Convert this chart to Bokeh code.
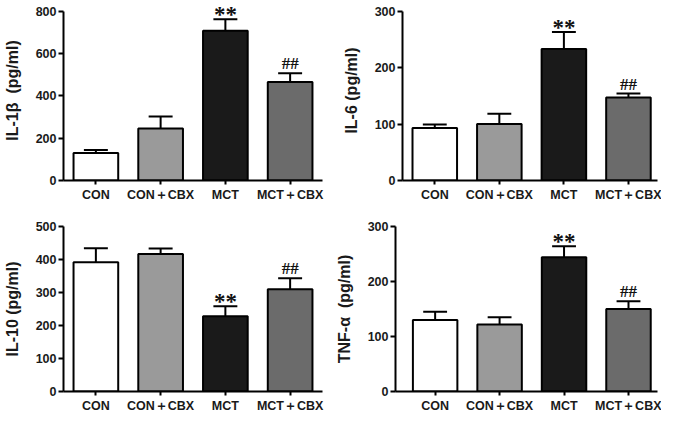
from bokeh.plotting import figure
from bokeh.models import ColumnDataSource, FixedTicker, LabelSet, Range1d
from bokeh.layouts import column, row
from bokeh.embed import file_html
from bokeh.resources import INLINE

categories = ["CON", "CON＋CBX", "MCT", "MCT＋CBX"]
bar_colors = ["#ffffff", "#9a9a9a", "#1a1a1a", "#6b6b6b"]
marks = ["", "", "**", "##"]

il1b_mean = [130, 246, 707, 465]
il1b_err = [14, 56, 54, 42]

il6_mean = [93, 100, 233, 147]
il6_err = [6, 18, 30, 7]

il10_mean = [392, 417, 228, 310]
il10_err = [42, 16, 30, 33]

tnf_mean = [130, 122, 244, 150]
tnf_err = [15, 13, 20, 14]

FONT = "Liberation Sans"


def make_panel(ylabel, means, errs, ymax, ystep, yend, width, height,
               bl, br, bt, bb, xstart, xend):
    p = figure(width=width, height=height, output_backend="svg",
               toolbar_location=None,
               x_range=Range1d(xstart, xend), y_range=Range1d(0, yend),
               min_border_left=bl, min_border_right=br,
               min_border_top=bt, min_border_bottom=bb)
    p.outline_line_color = None
    p.xgrid.visible = False
    p.ygrid.visible = False
    p.background_fill_color = None
    p.border_fill_color = None

    xs = list(range(len(categories)))
    tops = [m + e for m, e in zip(means, errs)]
    src = ColumnDataSource(dict(x=xs, mean=means, top=tops,
                                color=bar_colors, mark=marks,
                                x0=[x - 0.185 for x in xs],
                                x1=[x + 0.185 for x in xs]))
    p.segment(x0="x", y0="mean", x1="x", y1="top", source=src,
              line_color="black", line_width=2)
    p.segment(x0="x0", y0="top", x1="x1", y1="top", source=src,
              line_color="black", line_width=2)
    p.vbar(x="x", top="mean", bottom=0, width=0.69, source=src,
           fill_color="color", line_color="black", line_width=2)

    star_idx = [i for i, m in enumerate(marks) if m.startswith("*")]
    hash_idx = [i for i, m in enumerate(marks) if m.startswith("#")]
    star_src = ColumnDataSource(dict(x=[xs[i] for i in star_idx],
                                     y=[tops[i] for i in star_idx],
                                     t=[marks[i] for i in star_idx]))
    hash_src = ColumnDataSource(dict(x=[xs[i] for i in hash_idx],
                                     y=[tops[i] for i in hash_idx],
                                     t=[marks[i] for i in hash_idx]))
    p.add_layout(LabelSet(x="x", y="y", text="t", source=star_src,
                          text_align="center", text_baseline="alphabetic",
                          y_offset=-3, text_font_size="23px",
                          text_font_style="bold", text_font=FONT,
                          text_color="#111111"))
    p.add_layout(LabelSet(x="x", y="y", text="t", source=hash_src,
                          text_align="center", text_baseline="alphabetic",
                          y_offset=4, text_font_size="17px",
                          text_font_style="bold", text_font=FONT,
                          text_color="#111111"))

    ax = p.xaxis[0]
    ax.ticker = FixedTicker(ticks=xs)
    ax.major_label_overrides = {i: c for i, c in enumerate(categories)}
    ax.major_tick_out = 4
    ax.major_tick_in = 0
    ax.minor_tick_out = 0
    ax.minor_tick_in = 0
    ax.axis_line_width = 2
    ax.major_tick_line_width = 2
    ax.major_label_standoff = 3
    ax.axis_label_standoff = 0
    ax.major_label_text_font = FONT
    ax.major_label_text_font_style = "bold"
    ax.major_label_text_font_size = "12.5px"
    ax.major_label_text_color = "#1a1a1a"

    ay = p.yaxis[0]
    ay.ticker = FixedTicker(ticks=list(range(0, ymax + 1, ystep)))
    ay.bounds = (0, ymax)
    ay.major_tick_out = 5
    ay.major_tick_in = 0
    ay.minor_tick_out = 0
    ay.minor_tick_in = 0
    ay.axis_line_width = 2
    ay.major_tick_line_width = 2
    ay.major_label_standoff = 2
    ay.major_label_text_font = FONT
    ay.major_label_text_font_style = "bold"
    ay.major_label_text_font_size = "12.5px"
    ay.major_label_text_color = "#1a1a1a"
    ay.axis_label = ylabel
    ay.axis_label_text_font = FONT
    ay.axis_label_text_font_style = "bold"
    ay.axis_label_text_font_size = "16px"
    ay.axis_label_text_color = "#1a1a1a"
    ay.axis_label_standoff = 12
    return p


p1 = make_panel("IL-1β\u00a0 (pg/ml)", il1b_mean, il1b_err, 800, 200, 850,
                332, 204, 51, 10, 0, 22, -0.5, 3.5)
p2 = make_panel("IL-6 (pg/ml)", il6_mean, il6_err, 300, 100, 318.75,
                329, 204, 70, 4, 0, 22, -0.5, 3.45)
p3 = make_panel("IL-10 (pg/ml)", il10_mean, il10_err, 500, 100, 500,
                332, 211, 51, 10, 22, 19, -0.5, 3.5)
p4 = make_panel("TNF-α\u00a0 (pg/ml)", tnf_mean, tnf_err, 300, 100, 300,
                329, 211, 63, 4, 22, 19, -0.615, 3.45)

layout = column(row(p1, p2), row(p3, p4))
open("out.html", "w").write(file_html(layout, INLINE))
